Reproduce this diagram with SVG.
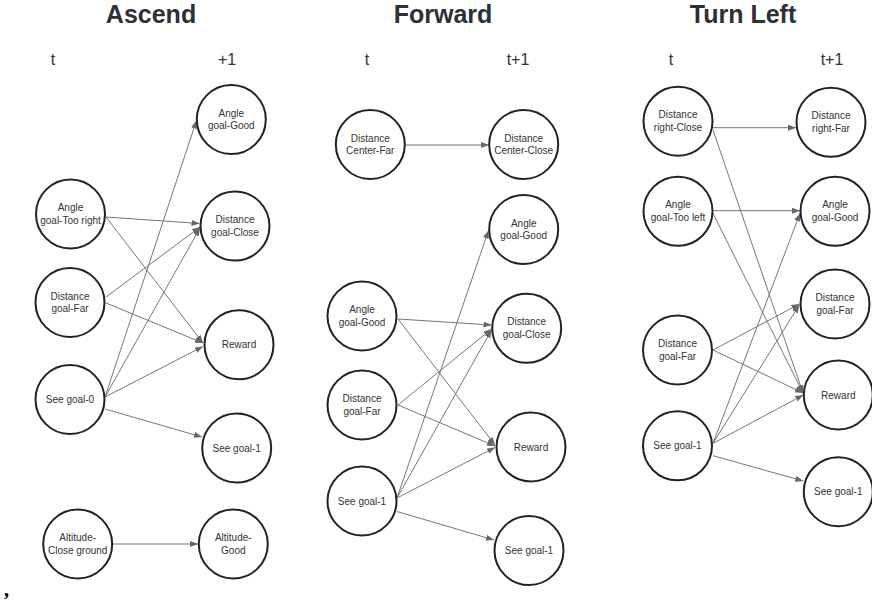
<svg xmlns="http://www.w3.org/2000/svg" width="872" height="606" viewBox="0 0 872 606">
<style>
.bg{fill:#ffffff}
.title{font-family:"Liberation Sans",Arial,sans-serif;font-weight:bold;font-size:25px;fill:#2d3135;text-anchor:middle}
.col{font-family:"Liberation Sans",Arial,sans-serif;font-size:16px;fill:#333333;text-anchor:middle}
.node circle{fill:#ffffff;stroke:#222222;stroke-width:2}
.node text{font-family:"Liberation Sans",Arial,sans-serif;font-size:10px;fill:#333333;text-anchor:middle}
.edges line{stroke:#777777;stroke-width:1;fill:none;marker-end:url(#arr)}
</style>
<defs>
<marker id="arr" markerUnits="userSpaceOnUse" markerWidth="9" markerHeight="7" refX="8" refY="3" orient="auto">
<path d="M0,0 L8,3 L0,6 z" fill="#666666"/>
</marker>
</defs>
<rect class="bg" x="0" y="0" width="872" height="606"/>

<text class="title" x="151" y="23">Ascend</text>
<text class="title" x="443" y="23">Forward</text>
<text class="title" x="743" y="23">Turn Left</text>
<text class="col" x="53" y="65">t</text>
<text class="col" x="227" y="65">+1</text>
<text class="col" x="367" y="65">t</text>
<text class="col" x="518" y="65">t+1</text>
<text class="col" x="671" y="65">t</text>
<text class="col" x="832" y="65">t+1</text>

<g id="connectors" class="edges">
<line x1="106" y1="217" x2="199.5" y2="223.5"/>
<line x1="106" y1="217" x2="203" y2="343"/>
<line x1="106" y1="297" x2="200" y2="227"/>
<line x1="106" y1="303" x2="203" y2="343"/>
<line x1="105" y1="397" x2="196.5" y2="120.5"/>
<line x1="105" y1="397" x2="200" y2="228"/>
<line x1="105" y1="397" x2="203" y2="346.5"/>
<line x1="105" y1="409" x2="202" y2="437"/>
<line x1="113" y1="544" x2="198" y2="544"/>

<line x1="405" y1="145" x2="489" y2="145"/>
<line x1="398" y1="319" x2="491.5" y2="325"/>
<line x1="398" y1="319" x2="495" y2="445"/>
<line x1="398" y1="405" x2="491.5" y2="329"/>
<line x1="398" y1="405" x2="495" y2="446"/>
<line x1="397" y1="498" x2="488.5" y2="230.5"/>
<line x1="397" y1="498" x2="491.5" y2="330"/>
<line x1="397" y1="498" x2="495" y2="447.5"/>
<line x1="397" y1="511.5" x2="494" y2="540"/>

<line x1="713" y1="127.7" x2="796" y2="127.7"/>
<line x1="713" y1="130" x2="803" y2="393"/>
<line x1="713" y1="210.7" x2="800" y2="210.7"/>
<line x1="713" y1="213.3" x2="803" y2="393"/>
<line x1="713" y1="350" x2="799.3" y2="304"/>
<line x1="713" y1="350" x2="803" y2="393"/>
<line x1="713" y1="443.3" x2="800" y2="213.3"/>
<line x1="713" y1="443.3" x2="799.3" y2="305"/>
<line x1="713" y1="443.3" x2="803.3" y2="395"/>
<line x1="713" y1="455.7" x2="803.3" y2="481"/>
</g>

<g id="a_t_angle" class="node"><circle cx="70.5" cy="214" r="34.5"/><text x="70.5" y="211">Angle</text><text x="70.5" y="223.5">goal-Too right</text></g>
<g id="a_t_dist" class="node"><circle cx="70" cy="302.5" r="34.5"/><text x="70" y="299.5">Distance</text><text x="70" y="312">goal-Far</text></g>
<g id="a_t_see" class="node"><circle cx="70" cy="399.5" r="34.5"/><text x="70" y="403">See goal-0</text></g>
<g id="a_t_alt" class="node"><circle cx="77.7" cy="544" r="34.5"/><text x="77.7" y="541">Altitude-</text><text x="77.7" y="553.5">Close ground</text></g>
<g id="a_n_angle" class="node"><circle cx="231.3" cy="119.5" r="34.5"/><text x="231.3" y="116.5">Angle</text><text x="231.3" y="129">goal-Good</text></g>
<g id="a_n_dist" class="node"><circle cx="235" cy="226" r="34.5"/><text x="235" y="223">Distance</text><text x="235" y="235.5">goal-Close</text></g>
<g id="a_n_reward" class="node"><circle cx="239" cy="344.7" r="34.5"/><text x="239" y="348.2">Reward</text></g>
<g id="a_n_see" class="node"><circle cx="236.7" cy="448" r="34.5"/><text x="236.7" y="451.5">See goal-1</text></g>
<g id="a_n_alt" class="node"><circle cx="233.3" cy="544" r="34.5"/><text x="233.3" y="541">Altitude-</text><text x="233.3" y="553.5">Good</text></g>

<g id="f_t_center" class="node"><circle cx="370.3" cy="144.5" r="34.5"/><text x="370.3" y="141.5">Distance</text><text x="370.3" y="154">Center-Far</text></g>
<g id="f_t_angle" class="node"><circle cx="362" cy="316" r="34.5"/><text x="362" y="313">Angle</text><text x="362" y="325.5">goal-Good</text></g>
<g id="f_t_dist" class="node"><circle cx="362" cy="405" r="34.5"/><text x="362" y="402">Distance</text><text x="362" y="414.5">goal-Far</text></g>
<g id="f_t_see" class="node"><circle cx="362" cy="501" r="34.5"/><text x="362" y="504.5">See goal-1</text></g>
<g id="f_n_center" class="node"><circle cx="523.7" cy="144.5" r="34.5"/><text x="523.7" y="141.5">Distance</text><text x="523.7" y="154">Center-Close</text></g>
<g id="f_n_angle" class="node"><circle cx="523.7" cy="229.5" r="34.5"/><text x="523.7" y="226.5">Angle</text><text x="523.7" y="239">goal-Good</text></g>
<g id="f_n_dist" class="node"><circle cx="526.7" cy="328.3" r="34.5"/><text x="526.7" y="325.3">Distance</text><text x="526.7" y="337.8">goal-Close</text></g>
<g id="f_n_reward" class="node"><circle cx="531" cy="447" r="34.5"/><text x="531" y="450.5">Reward</text></g>
<g id="f_n_see" class="node"><circle cx="529" cy="550.5" r="34.5"/><text x="529" y="554">See goal-1</text></g>

<g id="l_t_rclose" class="node"><circle cx="678" cy="121.2" r="34.5"/><text x="678" y="118.2">Distance</text><text x="678" y="130.7">right-Close</text></g>
<g id="l_t_angle" class="node"><circle cx="678" cy="211.3" r="34.5"/><text x="678" y="208.3">Angle</text><text x="678" y="220.8">goal-Too left</text></g>
<g id="l_t_dist" class="node"><circle cx="677.5" cy="350" r="34.5"/><text x="677.5" y="347">Distance</text><text x="677.5" y="359.5">goal-Far</text></g>
<g id="l_t_see" class="node"><circle cx="677.5" cy="445.8" r="34.5"/><text x="677.5" y="449.3">See goal-1</text></g>
<g id="l_n_rfar" class="node"><circle cx="831" cy="122.3" r="34.5"/><text x="831" y="119.3">Distance</text><text x="831" y="131.8">right-Far</text></g>
<g id="l_n_angle" class="node"><circle cx="835" cy="211.3" r="34.5"/><text x="835" y="208.3">Angle</text><text x="835" y="220.8">goal-Good</text></g>
<g id="l_n_dist" class="node"><circle cx="835" cy="304" r="34.5"/><text x="835" y="301">Distance</text><text x="835" y="313.5">goal-Far</text></g>
<g id="l_n_reward" class="node"><circle cx="838.3" cy="395" r="34.5"/><text x="838.3" y="398.5">Reward</text></g>
<g id="l_n_see" class="node"><circle cx="838.3" cy="491.7" r="34.5"/><text x="838.3" y="495.2">See goal-1</text></g>

<text x="4" y="596" font-family="'Liberation Serif',serif" font-weight="bold" font-size="20" fill="#000000">,</text>
</svg>
